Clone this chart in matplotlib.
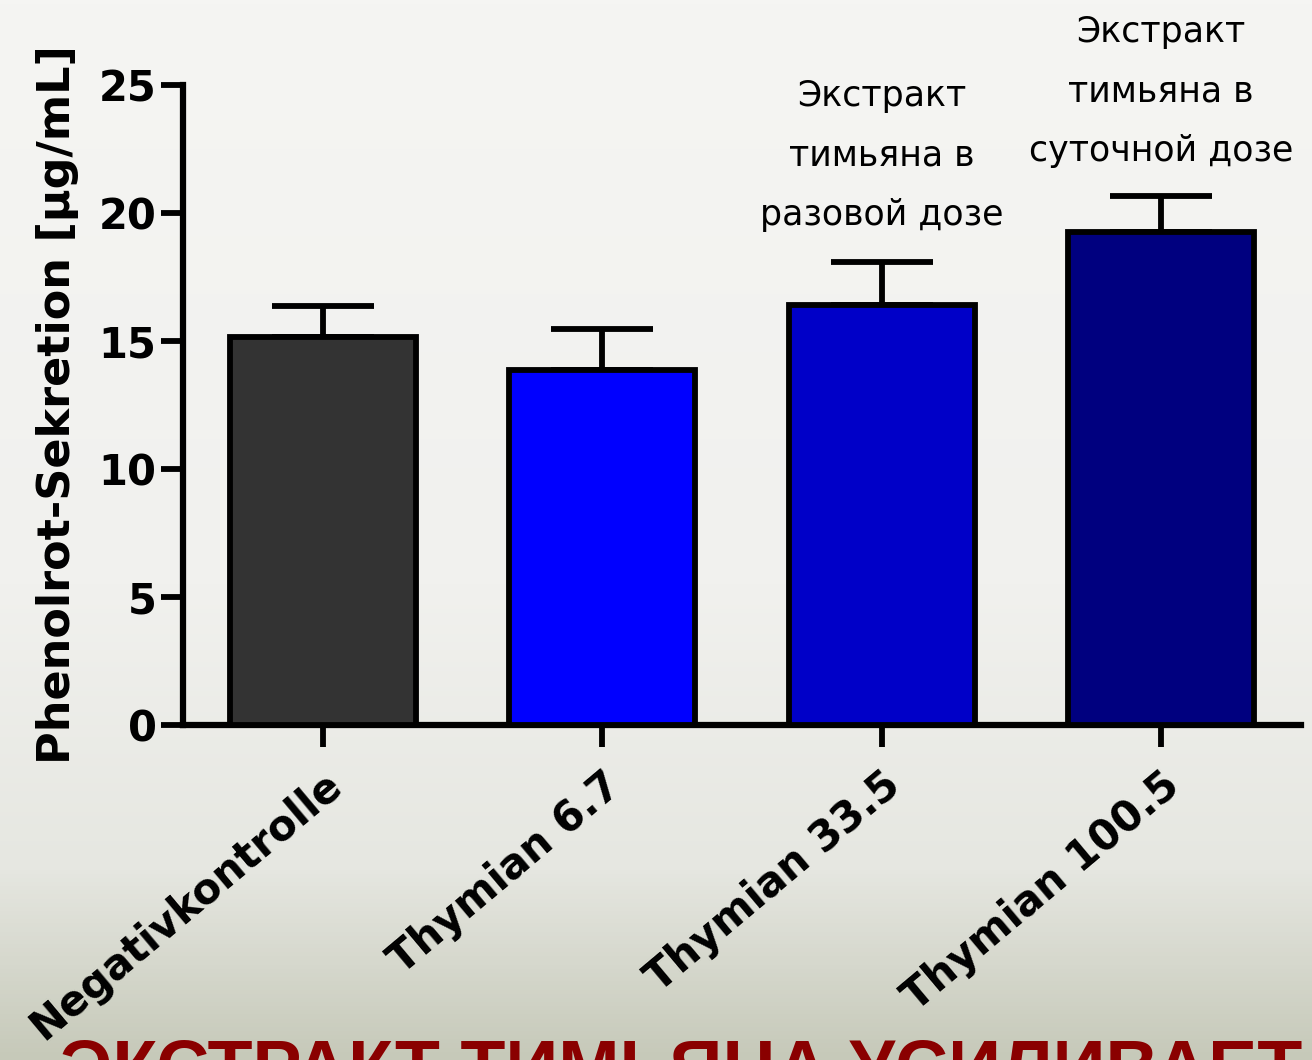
import numpy as np
import matplotlib.pyplot as plt
from matplotlib.colors import LinearSegmentedColormap

groups = ["Negativkontrolle", "Thymian 6.7", "Thymian 33.5", "Thymian 100.5"]
means = [15.15, 13.85, 16.4, 19.25]
errors = [1.2, 1.6, 1.7, 1.4]
bar_colors = ["#333333", "#0000ff", "#0000c8", "#00007f"]
notes = {2: "Экстракт\nтимьяна в\nразовой дозе",
         3: "Экстракт\nтимьяна в\nсуточной дозе"}
note_y = {2: 19.25, 3: 21.75}
title = "ЭКСТРАКТ ТИМЬЯНА УСИЛИВАЕТ"

plt.rcParams['font.family'] = ['DejaVu Sans']

fig = plt.figure(figsize=(13.12, 10.6), dpi=100)

# background gradient
bg = fig.add_axes([0, 0, 1, 1], zorder=-10)
cmap = LinearSegmentedColormap.from_list(
    "bg", [(0, "#f5f5f3"), (0.55, "#f1f1ee"), (0.82, "#e6e7e1"), (1, "#c6c9b9")])
grad = np.linspace(0, 1, 256).reshape(-1, 1)
bg.imshow(grad, aspect="auto", cmap=cmap, extent=[0, 1, 1, 0])
bg.set_axis_off()

ax = fig.add_axes([0.1395, 0.316, 0.852, 0.604])
ax.patch.set_alpha(0)
x = np.arange(len(groups))
ax.bar(x, means, width=0.665, color=bar_colors, edgecolor="black",
       linewidth=4.2, zorder=3)
ax.errorbar(x, means, yerr=[[0] * len(errors), errors], fmt="none",
            ecolor="black", elinewidth=4.2, capsize=37, capthick=4.2, zorder=2)

ax.set_xlim(-0.5, 3.5)
ax.set_ylim(0, 25)
ax.set_yticks([0, 5, 10, 15, 20, 25])
ax.set_xticks(x)
ax.set_xticklabels(groups, rotation=40, ha="right", va="top",
                   rotation_mode="anchor", fontsize=30, fontweight="bold")
for lab in ax.get_yticklabels():
    lab.set_fontsize(30)
    lab.set_fontweight("bold")
ax.tick_params(axis="both", direction="out", length=16, width=4.2, pad=3)
ax.tick_params(axis="x", pad=12)
for s in ["top", "right"]:
    ax.spines[s].set_visible(False)
for s in ["left", "bottom"]:
    ax.spines[s].set_linewidth(4.5)

ax.set_ylabel("Phenolrot-Sekretion [µg/mL]", fontsize=32, fontweight="bold")
ax.yaxis.set_label_coords(-0.093, 0.5)

for i, txt in notes.items():
    ax.text(i, note_y[i], txt, ha="center", va="bottom", fontsize=25,
            linespacing=1.95, clip_on=False)

fig.text(0.046, 0.0215, title, color="#8a0000", fontsize=53,
         fontweight="bold", va="top",
         family=["Liberation Sans", "DejaVu Sans"])

fig.savefig("out.png", dpi=100)
